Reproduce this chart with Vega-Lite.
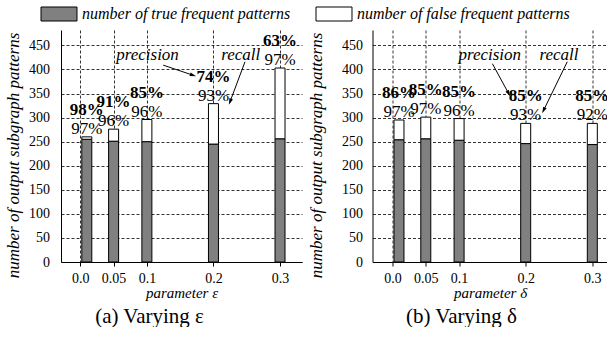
{
 "$schema": "https://vega.github.io/schema/vega-lite/v6.json",
 "padding": {"left": 4, "top": 6, "right": 0, "bottom": 0},
 "datasets": {
  "bars": [
   {"panel": "a", "p": 0.0, "truecount": 255, "total": 260, "prec": 0.98, "rec": 0.97},
   {"panel": "a", "p": 0.05, "truecount": 251, "total": 276, "prec": 0.91, "rec": 0.96},
   {"panel": "a", "p": 0.1, "truecount": 250, "total": 296, "prec": 0.85, "rec": 0.96},
   {"panel": "a", "p": 0.2, "truecount": 245, "total": 329, "prec": 0.74, "rec": 0.93},
   {"panel": "a", "p": 0.3, "truecount": 256, "total": 403, "prec": 0.63, "rec": 0.97},
   {"panel": "b", "p": 0.0, "truecount": 254, "total": 295, "prec": 0.86, "rec": 0.97},
   {"panel": "b", "p": 0.05, "truecount": 256, "total": 301, "prec": 0.85, "rec": 0.97},
   {"panel": "b", "p": 0.1, "truecount": 253, "total": 298, "prec": 0.85, "rec": 0.96},
   {"panel": "b", "p": 0.2, "truecount": 246, "total": 288, "prec": 0.85, "rec": 0.93},
   {"panel": "b", "p": 0.3, "truecount": 244, "total": 288, "prec": 0.85, "rec": 0.92}
  ],
  "notes": [
   {"panel": "a", "label": "precision", "p": 0.101, "v": 430},
   {"panel": "a", "label": "recall", "p": 0.241, "v": 430},
   {"panel": "b", "label": "precision", "p": 0.146, "v": 430},
   {"panel": "b", "label": "recall", "p": 0.25, "v": 430}
  ],
  "arrows": [
   {"panel": "a", "name": "precision", "p1": 0.1245, "v1": 409, "p2": 0.1694, "v2": 388},
   {"panel": "a", "name": "recall", "p1": 0.2474, "v1": 416, "p2": 0.2249, "v2": 333},
   {"panel": "b", "name": "precision", "p1": 0.150, "v1": 412, "p2": 0.1744, "v2": 350},
   {"panel": "b", "name": "recall", "p1": 0.2624, "v1": 416, "p2": 0.2268, "v2": 315}
  ]
 },
 "config": {
  "font": "Liberation Serif",
  "view": {"stroke": null},
  "axis": {
   "domainColor": "black", "domainWidth": 1,
   "gridColor": "black", "gridDash": [3, 2], "gridOpacity": 1, "gridWidth": 0.8,
   "labelFont": "Liberation Serif", "labelFontSize": 14, "labelColor": "black",
   "titleFont": "Liberation Serif", "titleFontSize": 15, "titleFontStyle": "italic",
   "titleFontWeight": "normal", "titleColor": "black", "tickColor": "black"
  },
  "title": {"font": "Liberation Serif", "fontSize": 21, "fontWeight": "normal", "color": "black"}
 },
 "resolve": {"scale": {"color": "shared"}, "legend": {"color": "shared"}},
 "spacing": 4.5,
 "hconcat": [
  {
   "width": 241, "height": 232,
   "title": {"text": "(a) Varying ε", "orient": "bottom", "anchor": "middle", "offset": 6, "dx": -32},
   "layer": [
    {
     "data": {"name": "bars"},
     "transform": [{"filter": "datum.panel === 'a' && datum.p > 0"}],
     "mark": {"type": "bar", "width": 10, "stroke": "black", "strokeWidth": 1},
     "encoding": {
      "x": {"field": "p", "type": "quantitative", "scale": {"domain": [-0.029, 0.333], "nice": false, "zero": false, "padding": 0},
            "axis": {"values": [0, 0.05, 0.1, 0.2, 0.3], "format": ".2~f", "labelExpr": "datum.value === 0 ? '0.0' : datum.label", "tickSize": 4, "grid": true, "title": "parameter ε", "labelPadding": 5, "titlePadding": 0}},
      "y": {"field": "truecount", "type": "quantitative", "scale": {"domain": [0, 482], "nice": false, "padding": 0},
            "axis": {"values": [0, 50, 100, 150, 200, 250, 300, 350, 400, 450], "tickCount": 10, "labelOverlap": false, "tickSize": 0, "labelPadding": 11.5, "grid": true, "title": "number of output subgraph patterns", "titleFontSize": 17, "titleY": 125, "titlePadding": 6}},
      "color": {"datum": "number of true frequent patterns", "type": "nominal",
                "scale": {"domain": ["number of true frequent patterns", "number of false frequent patterns"], "range": ["#808080", "#ffffff"]},
                "legend": {"orient": "none", "legendX": -10, "legendY": -24, "direction": "horizontal", "title": null, "padding": 0, "symbolType": "M-2.571,-1H2.571V1H-2.571Z", "symbolSize": 196, "symbolStrokeColor": "black", "symbolStrokeWidth": 1, "symbolOpacity": 1, "labelFont": "Liberation Serif", "labelFontStyle": "italic", "labelFontSize": 16, "labelColor": "black", "labelLimit": 400, "columnPadding": 23, "labelOffset": 15}}
     }
    },
    {
     "data": {"name": "bars"},
     "transform": [{"filter": "datum.panel === 'a' && datum.p === 0"}],
     "mark": {"type": "bar", "width": 10, "stroke": "black", "strokeWidth": 1, "xOffset": 6.5},
     "encoding": {
      "x": {"field": "p", "type": "quantitative"},
      "y": {"field": "truecount", "type": "quantitative"},
      "color": {"datum": "number of true frequent patterns", "type": "nominal"}
     }
    },
    {
     "data": {"name": "bars"},
     "transform": [{"filter": "datum.panel === 'a' && datum.p > 0"}],
     "mark": {"type": "bar", "width": 10, "stroke": "black", "strokeWidth": 1},
     "encoding": {
      "x": {"field": "p", "type": "quantitative"},
      "y": {"field": "truecount", "type": "quantitative"},
      "y2": {"field": "total"},
      "color": {"datum": "number of false frequent patterns", "type": "nominal"}
     }
    },
    {
     "data": {"name": "bars"},
     "transform": [{"filter": "datum.panel === 'a' && datum.p === 0"}],
     "mark": {"type": "bar", "width": 10, "stroke": "black", "strokeWidth": 1, "xOffset": 6.5},
     "encoding": {
      "x": {"field": "p", "type": "quantitative"},
      "y": {"field": "truecount", "type": "quantitative"},
      "y2": {"field": "total"},
      "color": {"datum": "number of false frequent patterns", "type": "nominal"}
     }
    },
    {
     "data": {"name": "bars"},
     "transform": [{"filter": "datum.panel === 'a' && datum.p > 0"}],
     "mark": {"type": "text", "fontWeight": "bold", "fontSize": 17, "dy": -27, "baseline": "middle", "color": "black"},
     "encoding": {
      "x": {"field": "p", "type": "quantitative"},
      "y": {"field": "total", "type": "quantitative"},
      "text": {"field": "prec", "type": "quantitative", "format": ".0%"}
     }
    },
    {
     "data": {"name": "bars"},
     "transform": [{"filter": "datum.panel === 'a' && datum.p === 0"}],
     "mark": {"type": "text", "fontWeight": "bold", "fontSize": 17, "dy": -27, "dx": 6.5, "baseline": "middle", "color": "black"},
     "encoding": {
      "x": {"field": "p", "type": "quantitative"},
      "y": {"field": "total", "type": "quantitative"},
      "text": {"field": "prec", "type": "quantitative", "format": ".0%"}
     }
    },
    {
     "data": {"name": "bars"},
     "transform": [{"filter": "datum.panel === 'a' && datum.p > 0"}],
     "mark": {"type": "text", "fontSize": 17, "dy": -8, "baseline": "middle", "color": "black"},
     "encoding": {
      "x": {"field": "p", "type": "quantitative"},
      "y": {"field": "total", "type": "quantitative"},
      "text": {"field": "rec", "type": "quantitative", "format": ".0%"}
     }
    },
    {
     "data": {"name": "bars"},
     "transform": [{"filter": "datum.panel === 'a' && datum.p === 0"}],
     "mark": {"type": "text", "fontSize": 17, "dy": -8, "dx": 6.5, "baseline": "middle", "color": "black"},
     "encoding": {
      "x": {"field": "p", "type": "quantitative"},
      "y": {"field": "total", "type": "quantitative"},
      "text": {"field": "rec", "type": "quantitative", "format": ".0%"}
     }
    },
    {
     "data": {"name": "notes"},
     "transform": [{"filter": "datum.panel === 'a'"}],
     "mark": {"type": "text", "fontStyle": "italic", "fontSize": 17, "baseline": "middle", "color": "black"},
     "encoding": {
      "x": {"field": "p", "type": "quantitative"},
      "y": {"field": "v", "type": "quantitative"},
      "text": {"field": "label"}
     }
    },
    {
     "data": {"name": "arrows"},
     "transform": [{"filter": "datum.panel === 'a'"}],
     "mark": {"type": "rule", "color": "black", "strokeWidth": 1},
     "encoding": {
      "x": {"field": "p1", "type": "quantitative"},
      "y": {"field": "v1", "type": "quantitative"},
      "x2": {"field": "p2"},
      "y2": {"field": "v2"}
     }
    },
    {
     "data": {"name": "arrows"},
     "transform": [{"filter": "datum.panel === 'a' && datum.name === 'precision'"}],
     "mark": {"type": "point", "shape": "M0,-1L0.6,1L-0.6,1Z", "filled": true, "color": "black", "opacity": 1, "size": 40, "angle": 108},
     "encoding": {
      "x": {"field": "p2", "type": "quantitative"},
      "y": {"field": "v2", "type": "quantitative"}
     }
    },
    {
     "data": {"name": "arrows"},
     "transform": [{"filter": "datum.panel === 'a' && datum.name === 'recall'"}],
     "mark": {"type": "point", "shape": "M0,-1L0.6,1L-0.6,1Z", "filled": true, "color": "black", "opacity": 1, "size": 40, "angle": 201},
     "encoding": {
      "x": {"field": "p2", "type": "quantitative"},
      "y": {"field": "v2", "type": "quantitative"}
     }
    }
   ]
  },
  {
   "width": 235, "height": 232,
   "title": {"text": "(b) Varying δ", "orient": "bottom", "anchor": "middle", "offset": 6, "dx": -28.5},
   "layer": [
    {
     "data": {"name": "bars"},
     "transform": [{"filter": "datum.panel === 'b' && datum.p > 0"}],
     "mark": {"type": "bar", "width": 10, "stroke": "black", "strokeWidth": 1},
     "encoding": {
      "x": {"field": "p", "type": "quantitative", "scale": {"domain": [-0.03, 0.3228], "nice": false, "zero": false, "padding": 0},
            "axis": {"values": [0, 0.05, 0.1, 0.2, 0.3], "format": ".2~f", "labelExpr": "datum.value === 0 ? '0.0' : datum.label", "tickSize": 4, "grid": true, "title": "parameter δ", "labelPadding": 5, "titlePadding": 0}},
      "y": {"field": "truecount", "type": "quantitative", "scale": {"domain": [0, 482], "nice": false, "padding": 0},
            "axis": {"values": [0, 50, 100, 150, 200, 250, 300, 350, 400, 450], "tickCount": 10, "labelOverlap": false, "tickSize": 0, "labelPadding": 10, "grid": true, "title": "number of output subgraph patterns", "titleFontSize": 17, "titleY": 125, "titlePadding": 16}},
      "color": {"datum": "number of true frequent patterns", "type": "nominal"}
     }
    },
    {
     "data": {"name": "bars"},
     "transform": [{"filter": "datum.panel === 'b' && datum.p === 0"}],
     "mark": {"type": "bar", "width": 10, "stroke": "black", "strokeWidth": 1, "xOffset": 6.5},
     "encoding": {
      "x": {"field": "p", "type": "quantitative"},
      "y": {"field": "truecount", "type": "quantitative"},
      "color": {"datum": "number of true frequent patterns", "type": "nominal"}
     }
    },
    {
     "data": {"name": "bars"},
     "transform": [{"filter": "datum.panel === 'b' && datum.p > 0"}],
     "mark": {"type": "bar", "width": 10, "stroke": "black", "strokeWidth": 1},
     "encoding": {
      "x": {"field": "p", "type": "quantitative"},
      "y": {"field": "truecount", "type": "quantitative"},
      "y2": {"field": "total"},
      "color": {"datum": "number of false frequent patterns", "type": "nominal"}
     }
    },
    {
     "data": {"name": "bars"},
     "transform": [{"filter": "datum.panel === 'b' && datum.p === 0"}],
     "mark": {"type": "bar", "width": 10, "stroke": "black", "strokeWidth": 1, "xOffset": 6.5},
     "encoding": {
      "x": {"field": "p", "type": "quantitative"},
      "y": {"field": "truecount", "type": "quantitative"},
      "y2": {"field": "total"},
      "color": {"datum": "number of false frequent patterns", "type": "nominal"}
     }
    },
    {
     "data": {"name": "bars"},
     "transform": [{"filter": "datum.panel === 'b' && datum.p > 0"}],
     "mark": {"type": "text", "fontWeight": "bold", "fontSize": 17, "dy": -27, "baseline": "middle", "color": "black"},
     "encoding": {
      "x": {"field": "p", "type": "quantitative"},
      "y": {"field": "total", "type": "quantitative"},
      "text": {"field": "prec", "type": "quantitative", "format": ".0%"}
     }
    },
    {
     "data": {"name": "bars"},
     "transform": [{"filter": "datum.panel === 'b' && datum.p === 0"}],
     "mark": {"type": "text", "fontWeight": "bold", "fontSize": 17, "dy": -27, "dx": 6.5, "baseline": "middle", "color": "black"},
     "encoding": {
      "x": {"field": "p", "type": "quantitative"},
      "y": {"field": "total", "type": "quantitative"},
      "text": {"field": "prec", "type": "quantitative", "format": ".0%"}
     }
    },
    {
     "data": {"name": "bars"},
     "transform": [{"filter": "datum.panel === 'b' && datum.p > 0"}],
     "mark": {"type": "text", "fontSize": 17, "dy": -8, "baseline": "middle", "color": "black"},
     "encoding": {
      "x": {"field": "p", "type": "quantitative"},
      "y": {"field": "total", "type": "quantitative"},
      "text": {"field": "rec", "type": "quantitative", "format": ".0%"}
     }
    },
    {
     "data": {"name": "bars"},
     "transform": [{"filter": "datum.panel === 'b' && datum.p === 0"}],
     "mark": {"type": "text", "fontSize": 17, "dy": -8, "dx": 6.5, "baseline": "middle", "color": "black"},
     "encoding": {
      "x": {"field": "p", "type": "quantitative"},
      "y": {"field": "total", "type": "quantitative"},
      "text": {"field": "rec", "type": "quantitative", "format": ".0%"}
     }
    },
    {
     "data": {"name": "notes"},
     "transform": [{"filter": "datum.panel === 'b'"}],
     "mark": {"type": "text", "fontStyle": "italic", "fontSize": 17, "baseline": "middle", "color": "black"},
     "encoding": {
      "x": {"field": "p", "type": "quantitative"},
      "y": {"field": "v", "type": "quantitative"},
      "text": {"field": "label"}
     }
    },
    {
     "data": {"name": "arrows"},
     "transform": [{"filter": "datum.panel === 'b'"}],
     "mark": {"type": "rule", "color": "black", "strokeWidth": 1},
     "encoding": {
      "x": {"field": "p1", "type": "quantitative"},
      "y": {"field": "v1", "type": "quantitative"},
      "x2": {"field": "p2"},
      "y2": {"field": "v2"}
     }
    },
    {
     "data": {"name": "arrows"},
     "transform": [{"filter": "datum.panel === 'b' && datum.name === 'precision'"}],
     "mark": {"type": "point", "shape": "M0,-1L0.6,1L-0.6,1Z", "filled": true, "color": "black", "opacity": 1, "size": 40, "angle": 151},
     "encoding": {
      "x": {"field": "p2", "type": "quantitative"},
      "y": {"field": "v2", "type": "quantitative"}
     }
    },
    {
     "data": {"name": "arrows"},
     "transform": [{"filter": "datum.panel === 'b' && datum.name === 'recall'"}],
     "mark": {"type": "point", "shape": "M0,-1L0.6,1L-0.6,1Z", "filled": true, "color": "black", "opacity": 1, "size": 40, "angle": 206},
     "encoding": {
      "x": {"field": "p2", "type": "quantitative"},
      "y": {"field": "v2", "type": "quantitative"}
     }
    }
   ]
  }
 ]
}
